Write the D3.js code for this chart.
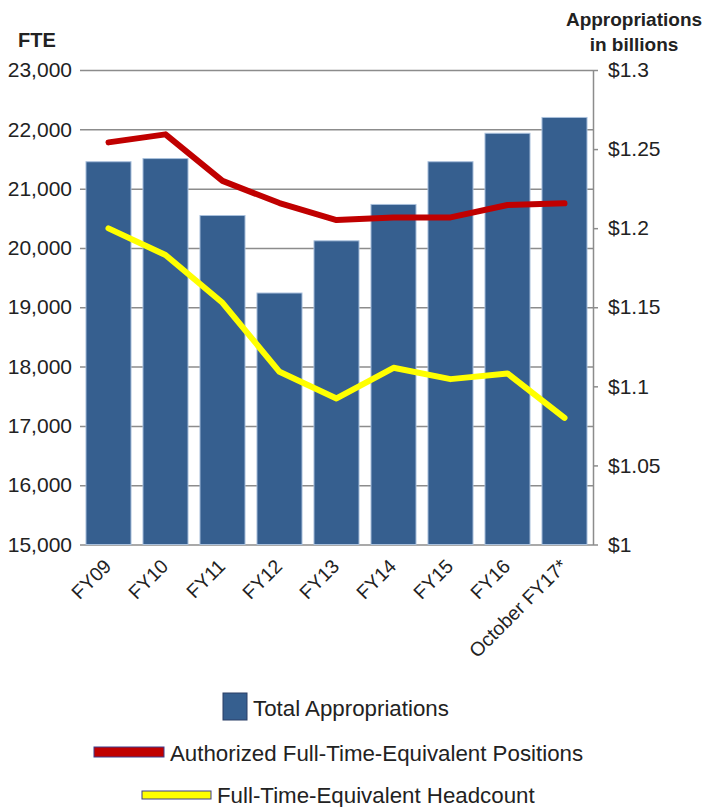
<!DOCTYPE html>
<html>
<head>
<meta charset="utf-8">
<script src="https://cdn.jsdelivr.net/npm/d3@7"></script>
<style>
  body { margin: 0; background: #fff; }
  svg text { font-family: "Liberation Sans", Arial, sans-serif; fill: #222; }
</style>
</head>
<body>
<div id="chart"></div>
<script>
// data
const years = ["FY09", "FY10", "FY11", "FY12", "FY13", "FY14", "FY15", "FY16", "October FY17*"];
const appropriations = [1.242, 1.244, 1.208, 1.159, 1.192, 1.215, 1.242, 1.26, 1.27];
const authorizedFTE = [21780, 21915, 21130, 20757, 20470, 20515, 20515, 20723, 20752];
const headcountFTE = [20330, 19880, 19075, 17911, 17463, 17979, 17788, 17884, 17135];
const fteTicks = [15000, 16000, 17000, 18000, 19000, 20000, 21000, 22000, 23000];
const dollarTicks = [1, 1.05, 1.1, 1.15, 1.2, 1.25, 1.3];

const W = 704, H = 807;
const plot = { left: 80, right: 593, top: 70, bottom: 544.5 };

const svg = d3.select("#chart").append("svg")
  .attr("width", W)
  .attr("height", H);

const x = d3.scaleBand()
  .domain(years)
  .range([plot.left, plot.right])
  .paddingInner(0.21)
  .paddingOuter(0.105);
const yL = d3.scaleLinear().domain([15000, 23000]).range([plot.bottom, plot.top]);
const yR = d3.scaleLinear().domain([1, 1.3]).range([plot.bottom, plot.top]);

// gridlines + left labels
const leftAxis = svg.append("g")
  .attr("transform", `translate(${plot.left},0)`)
  .call(d3.axisLeft(yL).tickValues(fteTicks).tickFormat(d3.format(",")).tickSize(-(plot.right - plot.left)).tickPadding(8));
leftAxis.select(".domain").remove();
leftAxis.selectAll(".tick line").attr("stroke", "#8c8c8c").attr("stroke-width", 1.5);
leftAxis.selectAll(".tick text").attr("font-size", 21).attr("fill", "#222");

// right axis
const rightAxis = svg.append("g")
  .attr("transform", `translate(${plot.right},0)`)
  .call(d3.axisRight(yR).tickValues(dollarTicks).tickFormat(d => "$" + (+d.toFixed(2))).tickSize(5).tickPadding(10).tickSizeOuter(0));
rightAxis.select(".domain").attr("stroke", "#8c8c8c").attr("stroke-width", 1.5);
rightAxis.selectAll(".tick line").attr("stroke", "#8c8c8c").attr("stroke-width", 1.5);
rightAxis.selectAll(".tick text").attr("font-size", 21).attr("fill", "#222");

// bars
svg.append("g").selectAll("rect")
  .data(years)
  .join("rect")
  .attr("x", d => x(d))
  .attr("width", x.bandwidth())
  .attr("y", (d, i) => yR(appropriations[i]))
  .attr("height", (d, i) => plot.bottom - yR(appropriations[i]))
  .attr("fill", "#365f8f")
  .attr("stroke", "#a9c0dc")
  .attr("stroke-width", 1);

// lines
const line = d3.line()
  .x((d, i) => x(years[i]) + x.bandwidth() / 2)
  .y(d => yL(d));

svg.append("path")
  .datum(authorizedFTE)
  .attr("d", line)
  .attr("fill", "none")
  .attr("stroke", "#c00000")
  .attr("stroke-width", 6)
  .attr("stroke-linejoin", "round")
  .attr("stroke-linecap", "round");

svg.append("path")
  .datum(headcountFTE)
  .attr("d", line)
  .attr("fill", "none")
  .attr("stroke", "#ffff00")
  .attr("stroke-width", 6)
  .attr("stroke-linejoin", "round")
  .attr("stroke-linecap", "round");

// x labels
svg.append("g").selectAll("text")
  .data(years)
  .join("text")
  .attr("transform", d => `translate(${x(d) + x.bandwidth() / 2 + 4},${plot.bottom + 23}) rotate(-45)`)
  .attr("text-anchor", "end")
  .attr("font-size", 19.5)
  .text(d => d);

// axis titles
svg.append("text")
  .attr("x", 18).attr("y", 47)
  .attr("font-size", 20).attr("font-weight", "bold")
  .text("FTE");
svg.append("text")
  .attr("x", 634).attr("y", 26)
  .attr("text-anchor", "middle")
  .attr("font-size", 19).attr("font-weight", "bold")
  .text("Appropriations");
svg.append("text")
  .attr("x", 634).attr("y", 51)
  .attr("text-anchor", "middle")
  .attr("font-size", 19).attr("font-weight", "bold")
  .text("in billions");

// legend
const legend = svg.append("g");
legend.append("rect")
  .attr("x", 223).attr("y", 693).attr("width", 24).attr("height", 27)
  .attr("fill", "#365f8f").attr("stroke", "#2a3f66").attr("stroke-width", 1);
legend.append("text")
  .attr("x", 253).attr("y", 716).attr("font-size", 22.3)
  .text("Total Appropriations");

legend.append("rect")
  .attr("x", 94).attr("y", 747).attr("width", 70).attr("height", 10)
  .attr("fill", "#c00000").attr("stroke", "#3c3c8c").attr("stroke-width", 1);
legend.append("text")
  .attr("x", 170).attr("y", 761).attr("font-size", 22.3)
  .text("Authorized Full-Time-Equivalent Positions");

legend.append("rect")
  .attr("x", 142).attr("y", 791).attr("width", 69).attr("height", 8)
  .attr("fill", "#ffff00").attr("stroke", "#3c3c8c").attr("stroke-width", 1);
legend.append("text")
  .attr("x", 217).attr("y", 803).attr("font-size", 22.3)
  .text("Full-Time-Equivalent Headcount");
</script>
</body>
</html>
